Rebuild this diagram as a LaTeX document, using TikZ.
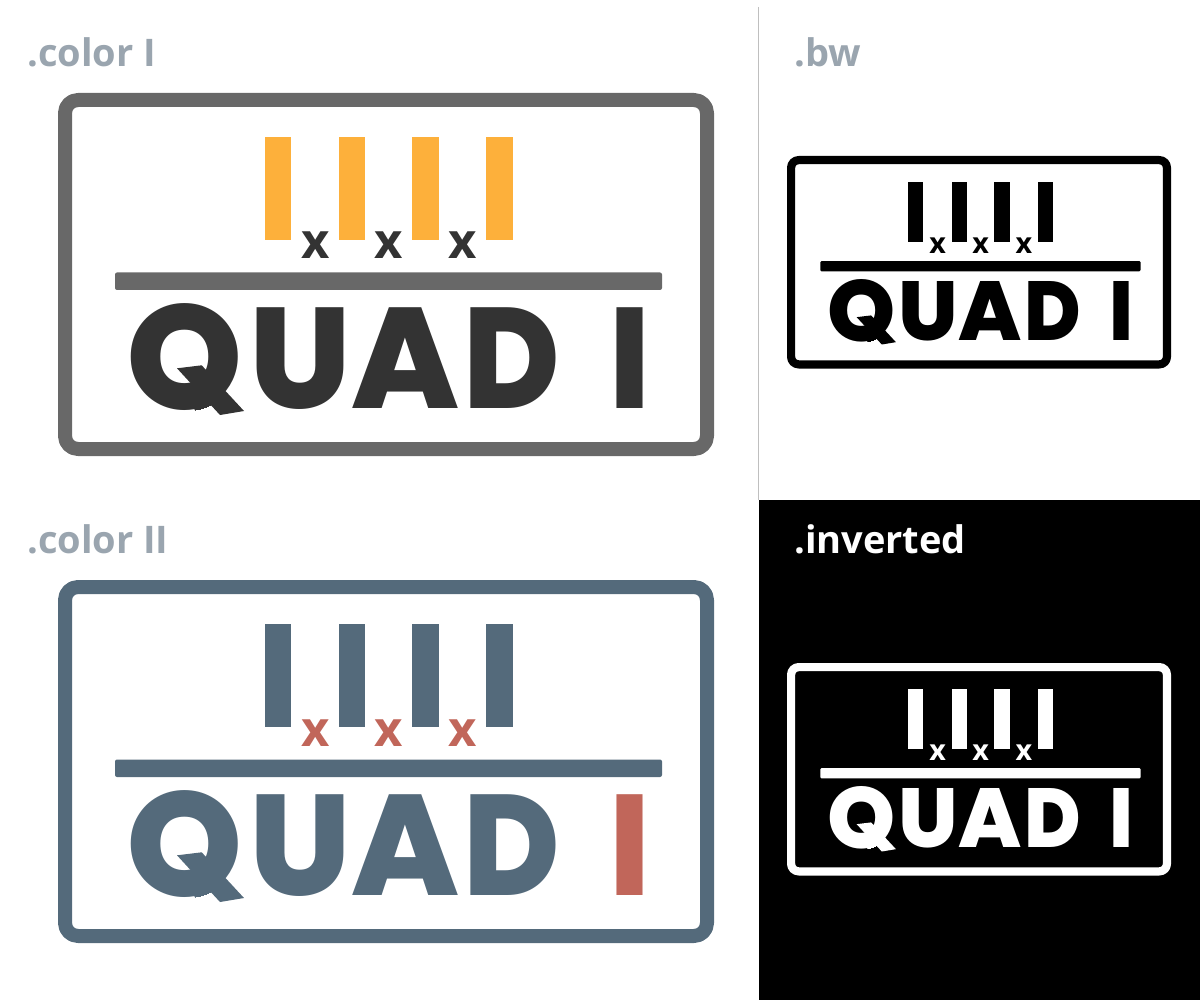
\documentclass[tikz,border=0pt]{standalone}
\usepackage{fontspec}
\setmainfont{Open Sans}
\newfontfamily\quadfont{Poppins ExtraBold}
\definecolor{greyframe}{HTML}{686868}
\definecolor{darktext}{HTML}{333333}
\definecolor{orangebar}{HTML}{FDB03B}
\definecolor{bluebar}{HTML}{546A7B}
\definecolor{redmark}{HTML}{C1665A}
\definecolor{greylabel}{HTML}{9AA5AF}
\tikzset{
	heading/.style={anchor=base west,inner sep=0pt,font=\bfseries\fontsize{38}{40}\selectfont},
	timesmark/.style={anchor=base,inner sep=0pt,font=\bfseries\fontsize{49}{50}\selectfont},
	quadletter/.style={anchor=base,inner sep=0pt,font=\quadfont\fontsize{143}{143}\selectfont}
}
\begin{document}
\begin{tikzpicture}[x=1pt,y=1pt,line join=round]
	\useasboundingbox (0,0) rectangle (1200,-1000);
	% #1 x, #2 y, #3 scale, #4 frame, #5 bars, #6 marks, #7 letters, #8 last letter
	\def\quadlogo#1#2#3#4#5#6#7#8{
		\begin{scope}[shift={(#1,#2)},scale=#3,transform shape]
			\draw[#4,line width=14*#3pt,rounded corners=13*#3pt] (7,-7) rectangle (649,-356);
			\fill[#5] (207,-44) rectangle (233,-147);
			\fill[#5] (281,-44) rectangle (307,-147);
			\fill[#5] (354,-44) rectangle (381,-147);
			\fill[#5] (428,-44) rectangle (455,-147);
			\fill[#4,rounded corners=2*#3pt] (57,-179.5) rectangle (604,-197);
			\node[timesmark,text=#6] (xa) at (257.5,-166) {x};
			\node[timesmark,text=#6] (xb) at (331,-166) {x};
			\node[timesmark,text=#6] (xc) at (404.5,-166) {x};
			\begin{scope}
				\clip (60,-200) rectangle (200,-264.5) (127,-264.5) ellipse [x radius=56.5,y radius=53.5];
				\node[quadletter,text=#7] (q) at (127,-316.5) {\scalebox{1.0}[1]{\fontsize{148}{148}\selectfont Q}};
			\end{scope}
			\fill[#7] (119,-275.3)--(143.7,-272.3)--(186,-318)--(162,-322)--(150,-309)--cycle;
			\node[quadletter,text=#7] (u) at (242,-315) {U};
			\node[quadletter,text=#7] (a) at (347,-315) {A};
			\node[quadletter,text=#7] (d) at (453.5,-315) {\scalebox{0.92}[1]{D}};
			\node[quadletter,text=#8] (i) at (572,-315) {\scalebox{0.93}[1]{I}};
		\end{scope}
	}
	\fill[black] (759,-500) rectangle (1200,-1000);
	\draw[line width=1pt,black!25] (758.5,-7)--(758.5,-500);
	\node[heading,text=greylabel] (colora) at (27,-67) {.color I};
	\node[heading,text=greylabel] (colorb) at (27,-553) {.color II};
	\node[heading,text=greylabel] (bw) at (794,-67) {.bw};
	\node[heading,text=white] (inverted) at (794,-553) {.inverted};
	\quadlogo{58}{-93}{1}{greyframe}{orangebar}{darktext}{darktext}{darktext}
	\quadlogo{58}{-580}{1}{bluebar}{bluebar}{redmark}{bluebar}{redmark}
	\quadlogo{787}{-156}{0.5854}{black}{black}{black}{black}{black}
	\quadlogo{787}{-663}{0.5854}{white}{white}{white}{white}{white}
\end{tikzpicture}
\end{document}
